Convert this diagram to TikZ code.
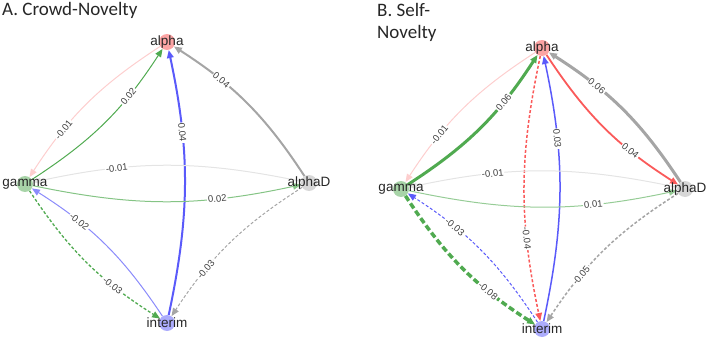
\documentclass[tikz,border=0pt]{standalone}
\usepackage{fontspec}
\setmainfont{Liberation Sans}
\newfontfamily\titlefont{Carlito}
\usepackage{tikz}
\usetikzlibrary{arrows.meta, positioning}
\definecolor{ered}{RGB}{250,90,90}
\definecolor{egreen}{RGB}{80,170,80}
\definecolor{eblue}{RGB}{90,90,250}
\definecolor{egray}{RGB}{165,165,165}

\begin{document}
\begin{tikzpicture}[
    x=1pt, y=-1pt,
    ball/.style={circle, minimum size=16pt, inner sep=0pt},
    nlabel/.style={font=\fontsize{13.5}{13.5}\selectfont, text=black!85, inner sep=0pt},
    wire/.style={-{Triangle[length=8pt, width=6.5pt]}, bend right=12, line width=1pt},
    neg/.style={dash pattern=on 3pt off 2pt},
    wt/.style={sloped, pos=0.7, fill=white, inner sep=1pt, font=\fontsize{9.5}{9.5}\selectfont, text=black!75},
    title/.style={font=\titlefont\fontsize{19}{22}\selectfont, text=black!85, inner sep=0pt, align=left}
]
    \useasboundingbox (0,0) rectangle (709,342);

    % A. Crowd-Novelty
    \node[title, anchor=base west] (tA) at (2,16) {A. Crowd-Novelty};
    \node[ball, fill=ered!55] (aA) at (167,42) {};
    \node[ball, fill=egreen!50] (gA) at (25,184) {};
    \node[ball, fill=egray!45] (dA) at (309,183) {};
    \node[ball, fill=eblue!50] (iA) at (167,323) {};

    \draw[wire, ered!30] (aA) to node[wt] {-0.01} (gA);
    \draw[wire, egreen] (gA) to node[wt] {0.02} (aA);
    \draw[wire, eblue, line width=2pt] (iA) to node[wt] {0.04} (aA);
    \draw[wire, egray, line width=2pt] (dA) to node[wt] {0.04} (aA);
    \draw[wire, egray!30] (dA) to node[wt] {-0.01} (gA);
    \draw[wire, egreen!70] (gA) to node[wt] {0.02} (dA);
    \draw[wire, eblue!70] (iA) to node[wt] {-0.02} (gA);
    \draw[wire, egreen, neg, line width=1.3pt] (gA) to node[wt] {-0.03} (iA);
    \draw[wire, egray, neg] (dA) to node[wt] {-0.03} (iA);

    \node[nlabel] (aA-t) at (aA) {alpha};
    \node[nlabel] (gA-t) at (gA) {gamma};
    \node[nlabel] (dA-t) at (dA) {alphaD};
    \node[nlabel] (iA-t) at (iA) {interim};

    % B. Self-Novelty
    \node[title, anchor=north west] (tB) at (377,3) {B. Self-\\Novelty};
    \node[ball, fill=ered!55] (aB) at (542,48) {};
    \node[ball, fill=egreen!50] (gB) at (401,189) {};
    \node[ball, fill=egray!45] (dB) at (685,189) {};
    \node[ball, fill=eblue!50] (iB) at (542,329) {};

    \draw[wire, ered!30] (aB) to node[wt] {-0.01} (gB);
    \draw[wire, egreen, line width=3pt] (gB) to node[wt] {0.06} (aB);
    \draw[wire, ered, neg, line width=1.5pt] (aB) to node[wt] {-0.04} (iB);
    \draw[wire, eblue, line width=1.5pt] (iB) to node[wt] {0.03} (aB);
    \draw[wire, ered, line width=1.8pt] (aB) to node[wt] {0.04} (dB);
    \draw[wire, egray, line width=3pt] (dB) to node[wt] {0.06} (aB);
    \draw[wire, egray!30] (dB) to node[wt] {-0.01} (gB);
    \draw[wire, egreen!60] (gB) to node[wt] {0.01} (dB);
    \draw[wire, eblue, neg] (iB) to node[wt] {-0.03} (gB);
    \draw[wire, egreen, dash pattern=on 6pt off 3pt, line width=3.5pt] (gB) to node[wt] {-0.08} (iB);
    \draw[wire, egray, neg, line width=1.5pt] (dB) to node[wt] {-0.05} (iB);

    \node[nlabel] (aB-t) at (aB) {alpha};
    \node[nlabel] (gB-t) at (gB) {gamma};
    \node[nlabel] (dB-t) at (dB) {alphaD};
    \node[nlabel] (iB-t) at (iB) {interim};
\end{tikzpicture}
\end{document}
